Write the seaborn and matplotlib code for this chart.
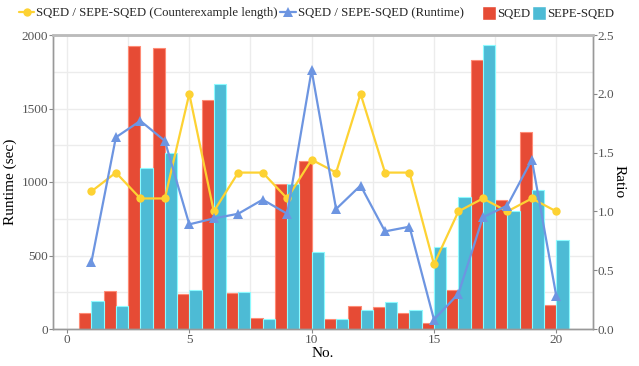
import numpy as np
import pandas as pd
import matplotlib
matplotlib.use("Agg")
import matplotlib.pyplot as plt
from matplotlib.lines import Line2D
from matplotlib.patches import Patch
from matplotlib.ticker import MultipleLocator
import seaborn as sns

# ---- data ----
no = list(range(1, 21))
sqed_runtime = [107, 256, 1928, 1914, 238, 1556, 245, 73, 985, 1142,
                70, 156, 150, 109, 43, 267, 1833, 875, 1341, 163]
sepe_runtime = [190, 156, 1094, 1198, 265, 1665, 251, 66, 985, 521,
                70, 129, 183, 127, 559, 895, 1930, 800, 947, 603]
ratio_cex = [1.17, 1.33, 1.11, 1.11, 2.0, 1.0, 1.33, 1.33, 1.11, 1.44,
             1.33, 2.0, 1.33, 1.33, 0.55, 1.0, 1.11, 1.0, 1.11, 1.0]
ratio_runtime = [0.57, 1.63, 1.77, 1.60, 0.89, 0.94, 0.98, 1.10, 0.98, 2.20,
                 1.02, 1.22, 0.83, 0.87, 0.08, 0.30, 0.95, 1.05, 1.44, 0.28]
series_names = ["SQED", "SEPE-SQED"]
line_names = ["SQED / SEPE-SQED (Counterexample length)", "SQED / SEPE-SQED (Runtime)"]

RED = "#E64B35"
CYAN = "#4DBBD5"
YELLOW = "#FDD233"
BLUE = "#6D95E1"

sns.set_theme(style="white")
plt.rcParams['font.family'] = ['Liberation Serif', 'DejaVu Serif']

bars = pd.DataFrame({
    "No.": no * 2,
    "Runtime": sqed_runtime + sepe_runtime,
    "Tool": [series_names[0]] * len(no) + [series_names[1]] * len(no),
})
lines = pd.DataFrame({"No.": no, "cex": ratio_cex, "rt": ratio_runtime})

fig = plt.figure(figsize=(6.39, 3.66), dpi=100)
ax = fig.add_axes([53 / 639, 1 - 329 / 366, (593 - 53) / 639, (329 - 35) / 366])

sns.barplot(data=bars, x="No.", y="Runtime", hue="Tool", native_scale=True,
            palette=[RED, CYAN], width=1.0, ax=ax, legend=False,
            linewidth=0.8, saturation=1)
for p in ax.patches:
    fc = p.get_facecolor()
    p.set_edgecolor(tuple(min(1, c + 0.25) for c in fc[:3]) + (1,))

ax2 = ax.twinx()
sns.lineplot(data=lines, x="No.", y="cex", ax=ax2, color=YELLOW, marker="o",
             markersize=6, markeredgewidth=0, linewidth=1.6)
sns.lineplot(data=lines, x="No.", y="rt", ax=ax2, color=BLUE, marker="^",
             markersize=7.5, markeredgewidth=0, linewidth=1.6)

ax.set_xlim(-0.57, 21.5)
ax.set_ylim(0, 2000)
ax2.set_ylim(0, 2.5)

ax.xaxis.set_major_locator(MultipleLocator(5))
ax.xaxis.set_minor_locator(MultipleLocator(2.5))
ax.yaxis.set_major_locator(MultipleLocator(500))
ax.yaxis.set_minor_locator(MultipleLocator(250))
ax2.yaxis.set_major_locator(MultipleLocator(0.5))
ax2.yaxis.set_major_formatter(matplotlib.ticker.FormatStrFormatter('%.1f'))

ax.grid(True, which="both", color="#ececec", linewidth=1)
ax.set_axisbelow(True)
ax2.grid(False)

tick_color = "#555555"
ax.tick_params(axis="both", which="major", length=3, width=0.8, color="#888888",
               labelsize=9.5, labelcolor=tick_color, pad=0.5, left=True, bottom=True)
ax.tick_params(axis="both", which="minor", length=0)
ax2.tick_params(axis="y", length=3, width=0.8, color="#888888", labelsize=9.5,
                labelcolor=tick_color, pad=0.5, right=True)

for a in (ax, ax2):
    for s in a.spines.values():
        s.set_color("#999999")
        s.set_linewidth(1)
ax2.spines["top"].set_color("#bbbbbb")
ax2.spines["top"].set_linewidth(2)

ax.set_xlabel("No.", fontsize=11, labelpad=0.5, color="black")
ax.set_ylabel("Runtime (sec)", fontsize=11, labelpad=3.5, color="black")
ax2.set_ylabel("Ratio", fontsize=11, rotation=270, labelpad=8, color="black")

h_lines = [Line2D([], [], color=YELLOW, marker="o", markersize=6, markeredgewidth=0, linewidth=1.6),
           Line2D([], [], color=BLUE, marker="^", markersize=7, markeredgewidth=0, linewidth=1.6)]
fig.legend(h_lines, line_names, loc="center left", bbox_to_anchor=(19 / 639, 1 - 13 / 366),
           ncol=2, frameon=False, fontsize=9.2, handlelength=1.2, handletextpad=0.15,
           columnspacing=0.2, borderaxespad=0, borderpad=0)
h_bars = [Patch(facecolor=RED), Patch(facecolor=CYAN)]
fig.legend(h_bars, series_names, loc="center left", bbox_to_anchor=(482 / 639, 1 - 13 / 366),
           ncol=2, frameon=False, fontsize=9.2, handlelength=1.1, handleheight=1.3,
           handletextpad=0.1, columnspacing=0.1, borderaxespad=0, borderpad=0)

fig.savefig("out.png", dpi=100)
